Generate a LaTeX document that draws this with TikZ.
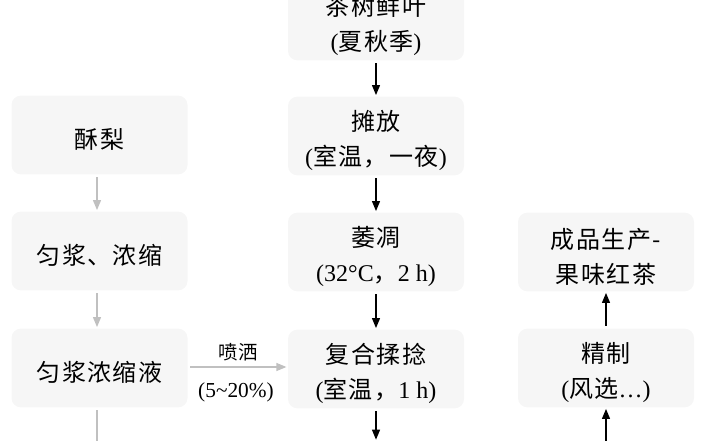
\documentclass[tikz,border=0pt]{standalone}
\usepackage{fontspec}
\setmainfont{Liberation Serif}
\newfontfamily\cjk[LetterSpace=6]{Noto Sans CJK SC}
\usetikzlibrary{arrows.meta}
\definecolor{boxgray}{RGB}{246,246,246}
\definecolor{arrowgray}{RGB}{192,192,192}
\newcommand\topstrut{\rule{0pt}{22pt}}

\begin{document}
\begin{tikzpicture}[x=0.75pt,y=0.75pt,yscale=-1,xscale=1,
  stepbox/.style={fill=boxgray, rounded corners=7pt, minimum width=132pt, minimum height=59pt, inner sep=0pt, align=center, font=\fontsize{18}{26.5}\selectfont},
  flow/.style={-{Triangle[width=6pt,length=7.5pt]}, line width=0.9pt, shorten <=2pt, shorten >=1pt},
  flowgray/.style={flow, draw=arrowgray, -{Triangle[width=6pt,length=7.5pt,fill=arrowgray]}},
  note/.style={inner sep=0.75pt}]
\useasboundingbox (0,0) rectangle (706,441);
\clip (0,0) rectangle (706,441);

%Shapes: left column
\node [stepbox] (sl) at (99.5,135) {\topstrut{\cjk 酥梨}};
\node [stepbox] (jz) at (99.5,251) {\topstrut{\cjk 匀浆、浓缩}};
\node [stepbox] (jy) at (99.5,368) {\topstrut{\cjk 匀浆浓缩液}};

%Shapes: centre column
\node [stepbox] (xy) at (376,21) {\topstrut{\cjk 茶树鲜叶}\\({\cjk 夏秋季})};
\node [stepbox] (tf) at (376,136) {\topstrut{\cjk 摊放}\\({\cjk 室温，一夜})};
\node [stepbox] (wd) at (376,252) {\topstrut{\cjk 萎凋}\\(32°C{\cjk ，}2 h)};
\node [stepbox] (rn) at (376,369) {\topstrut{\cjk 复合揉捻}\\({\cjk 室温，}1 h)};

%Shapes: right column
\node [stepbox] (cp) at (606,252) {\topstrut{\cjk 成品生产-}\\{\cjk 果味红茶}};
\node [stepbox] (jg) at (606,368) {\topstrut{\cjk 精制}\\({\cjk 风选}…)};

%Open ends
\coordinate (slout) at (97,460);
\coordinate (rnout) at (376,441);
\coordinate (jgin) at (606,445);

%Arrows
\draw [flowgray] (sl.south -| 97,0) -- (jz.north -| 97,0);
\draw [flowgray] (jz.south -| 97,0) -- (jy.north -| 97,0);
\draw [flowgray] (jy.south -| 97,0) -- (slout);
\draw [flowgray] (jy.east |- 0,367) -- (rn.west |- 0,367);
\draw [flow] (xy) -- (tf);
\draw [flow] (tf) -- (wd);
\draw [flow] (wd) -- (rn);
\draw [flow] (rn) -- (rnout);
\draw [flow] (jg) -- (cp);
\draw [flow, shorten <=0pt] (jgin) -- (jg);

% Text Node
\node [note, font=\fontsize{14.5}{17}\selectfont] (ps) at (238,352) {{\cjk 喷洒}};
% Text Node
\node [note, font=\fontsize{16}{19}\selectfont] (bl) at (236,392) {(5\textasciitilde 20\%)};

\end{tikzpicture}
\end{document}
